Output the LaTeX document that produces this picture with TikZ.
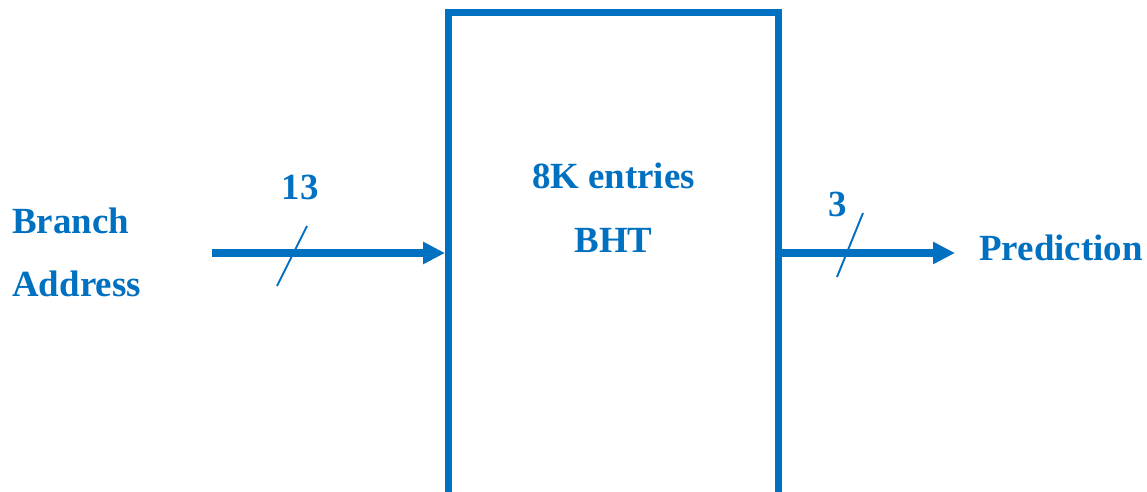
\documentclass[tikz,border=0pt]{standalone}
\usepackage{fontspec}
\setmainfont{Liberation Serif}
\usetikzlibrary{positioning, arrows.meta, calc}
\definecolor{office}{RGB}{0,112,192}

\begin{document}
\begin{tikzpicture}[x=0.02cm, y=-0.02cm,
    font=\fontsize{21}{25}\selectfont\bfseries, >={Triangle[length=0.44cm,width=0.42cm]},
    bus/.style={->,draw=office,line width=4pt},
    tick/.style={draw=office,line width=1.1pt},
    lbl/.style={text=office,inner sep=0pt},
    table/.style={rectangle,draw=office,line width=0.14cm,fill=white,
                  minimum width=6.6cm,minimum height=10cm}]

  \clip (0,0) rectangle (1147,492);
  \fill[white] (0,0) rectangle (1147,492);

  % the history table, its lower edge runs off the page
  \node[table] (bht) at (613.5,262.5) {};
  \node[lbl,anchor=base] (size) at (613.5,189) {8K entries};
  \node[lbl,anchor=base] (name) at (613.5,253) {BHT};

  % address bus in
  \coordinate (addr) at (212,253);
  \draw[bus] (addr) -- (addr -| bht.west);
  \draw[tick] (277,286) -- (307,226);
  \node[lbl,anchor=base] (w13) at (300,200) {13};
  \node[lbl,anchor=base west] (br) at (12,234) {Branch};
  \node[lbl,anchor=base west] (ad) at (12,297) {Address};

  % prediction out
  \coordinate (pred) at (955,253);
  \draw[bus] (pred -| bht.east) -- (pred);
  \draw[tick] (837,277) -- (863,213);
  \node[lbl,anchor=base] (w3) at (838,217) {3};
  \node[lbl,anchor=base west] (out) at (979,261) {Prediction};
\end{tikzpicture}
\end{document}
